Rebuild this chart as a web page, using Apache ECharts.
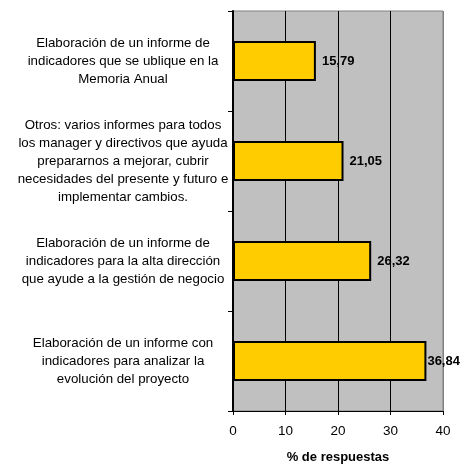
<!DOCTYPE html>
<html>
<head>
<meta charset="utf-8">
<script src="https://cdn.jsdelivr.net/npm/echarts@6/dist/echarts.min.js"></script>
<style>
  html, body { margin: 0; padding: 0; background: #ffffff; }
  #chart { width: 461px; height: 465px; }
</style>
</head>
<body>
<div id="chart"></div>
<script>
// Categories listed bottom to top (ECharts draws the first category at the bottom)
const categories = [
  'Elaboración de un informe con\nindicadores para analizar la\nevolución del proyecto',
  'Elaboración de un informe de\nindicadores para la alta dirección\nque ayude a la gestión de negocio',
  'Otros: varios informes para todos\nlos manager y directivos que ayuda\nprepararnos a mejorar, cubrir\nnecesidades del presente y futuro e\nimplementar cambios.',
  'Elaboración de un informe de\nindicadores que se ublique en la\nMemoria Anual'
];
const respuestas = [36.84, 26.32, 21.05, 15.79];
const xTicks = [0, 10, 20, 30, 40];
const xTitle = '% de respuestas';

const chart = echarts.init(document.getElementById('chart'), null, { renderer: 'canvas' });

const fontFamily = 'Liberation Sans, Arial, sans-serif';

chart.setOption({
  animation: false,
  grid: {
    left: 233, right: 18, top: 11, bottom: 54,
    containLabel: false,
    outerBoundsMode: 'none',
    show: true,
    backgroundColor: '#c0c0c0',
    borderColor: '#808080',
    borderWidth: 1
  },
  xAxis: {
    type: 'value',
    min: xTicks[0],
    max: xTicks[xTicks.length - 1],
    interval: xTicks[1] - xTicks[0],
    name: xTitle,
    nameLocation: 'middle',
    nameGap: 40,
    nameTextStyle: { fontFamily, fontSize: 13, fontWeight: 'bold', color: '#000' },
    axisLine: { show: true, lineStyle: { color: '#000', width: 1 } },
    axisTick: { show: true, length: 4, lineStyle: { color: '#000' } },
    axisLabel: { fontFamily, fontSize: 13.5, color: '#000', margin: 13 },
    splitLine: {
      show: true,
      lineStyle: { color: ['#808080', '#000', '#000', '#000', '#808080'], width: 1 }
    }
  },
  yAxis: {
    type: 'category',
    data: categories,
    axisLine: { show: true, lineStyle: { color: '#000', width: 2 } },
    axisTick: { show: true, length: 5, alignWithLabel: false, lineStyle: { color: '#000' } },
    axisLabel: {
      fontFamily, fontSize: 13.3, color: '#000',
      align: 'center', margin: 110, lineHeight: 18
    },
    splitLine: { show: false }
  },
  series: [{
    type: 'bar',
    barWidth: 40,
    data: respuestas.map((v, i) => i === 0
      ? { value: v, label: { distance: 1 } }
      : { value: v }),
    itemStyle: { color: '#ffcc00', borderColor: '#000', borderWidth: 2 },
    label: {
      show: true,
      position: 'right',
      distance: 6,
      fontFamily, fontSize: 13, fontWeight: 'bold', color: '#000',
      formatter: p => p.value.toFixed(2).replace('.', ',')
    }
  }]
});
</script>
</body>
</html>
